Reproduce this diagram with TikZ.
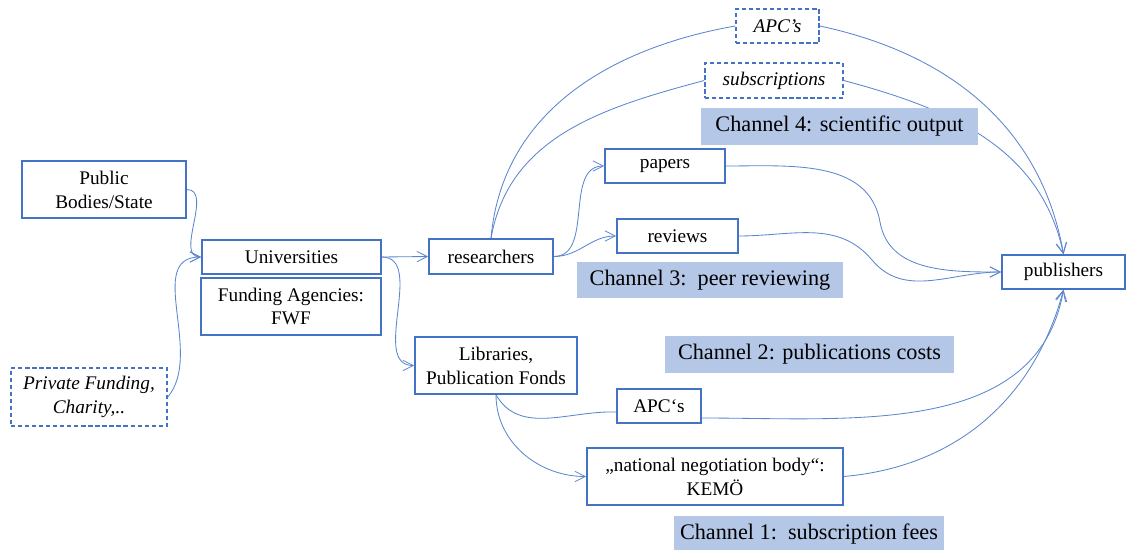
\documentclass[tikz,border=0pt]{standalone}
\usepackage{fontspec}
\setmainfont{Liberation Serif}
\usetikzlibrary{arrows.meta}
\definecolor{boxblue}{HTML}{4472C4}
\definecolor{lineblue}{HTML}{5B86CF}
\definecolor{chanblue}{HTML}{B4C7E7}

\begin{document}
\begin{tikzpicture}[x=0.025cm,y=-0.025cm,
  box/.style={draw=boxblue,line width=1.1pt,fill=white,inner sep=0pt,align=center,
    font=\fontsize{13.7}{17}\selectfont},
  dashbox/.style={box,dash pattern=on 3pt off 2pt,
    font=\fontsize{13.7}{17}\selectfont\itshape},
  channel/.style={fill=chanblue,inner sep=0pt,font=\fontsize{15.8}{18}\selectfont},
  flow/.style={draw=lineblue,line width=0.6pt},
  arr/.style={flow,-{Straight Barb[length=2.6mm,width=2.6mm]}}]
\useasboundingbox (0,0) rectangle (1129,550);

\node[box,minimum width=4.1cm,minimum height=1.425cm] (pub) at (104,189.5) {Public\\Bodies/State};
\node[box,minimum width=4.475cm,minimum height=0.85cm] (uni) at (291.5,257) {Universities};
\node[box,minimum width=4.5cm,minimum height=1.425cm] (fwf) at (291,306.5) {Funding Agencies:\\FWF};
\node[dashbox,minimum width=3.9cm,minimum height=1.45cm] (priv) at (89,397) {Private Funding,\\Charity,..};
\node[box,minimum width=3.1cm,minimum height=0.875cm] (res) at (491,256.5) {researchers};
\node[box,minimum width=3.0cm,minimum height=0.85cm] (pap) at (665,166) {papers};
\node[box,minimum width=3.025cm,minimum height=0.85cm] (rev) at (677.5,236) {reviews};
\node[dashbox,minimum width=2.075cm,minimum height=0.85cm] (apctop) at (777.5,26) {APC’s};
\node[dashbox,minimum width=3.45cm,minimum height=0.875cm] (subs) at (774,80.5) {subscriptions};
\node[box,minimum width=3.075cm,minimum height=0.85cm] (pubs) at (1063.5,272) {publishers};
\node[box,minimum width=4.05cm,minimum height=1.425cm] (lib) at (496,365.5) {Libraries,\\Publication Fonds};
\node[box,minimum width=2.1cm,minimum height=0.85cm] (apclow) at (659,406) {APC‘s};
\node[box,minimum width=6.4cm,minimum height=1.425cm] (kemo) at (715,476.5) {„national negotiation body“:\\KEMÖ};

\coordinate (bendA) at (880,222);
\coordinate (bendB) at (872,260);

\draw[arr] (pub.east) to[out=0,in=180] (uni.west);
\draw[arr] (priv.east) to[out=50,in=180] (uni.west);
\draw[arr] (uni.east) -- (res.west);
\draw[arr] (uni.east) to[out=0,in=180] (lib.west);
\draw[arr] (res.east) to[out=0,in=180] (pap.west);
\draw[arr] (res.east) to[out=0,in=180] (rev.west);
\draw[flow] (res.north) to[out=85,in=190] (apctop.west);
\draw[flow] (res.north) to[out=80,in=195] (subs.west);
\draw[arr] (apctop.east) to[out=-12,in=100] (pubs.north);
\draw[arr] (subs.east) to[out=-15,in=102] (pubs.north);
\draw[arr] (pap.east) to[out=0,in=100] (bendA) to[out=-80,in=180] (pubs.west);
\draw[arr] (rev.east) to[out=0,in=130] (bendB) to[out=-50,in=180] (pubs.west);
\draw[flow] (lib.south) to[out=-60,in=178] ([yshift=-0.15cm]apclow.west);
\draw[arr] ([yshift=-0.3cm]apclow.east) to[out=0,in=-100] (pubs.south);
\draw[arr] (lib.south) to[out=-90,in=180] (kemo.west);
\draw[arr] (kemo.east) to[out=5,in=-105] (pubs.south);

\node[channel,minimum width=6.925cm,minimum height=0.925cm] (ch4) at (839.5,126.5) {Channel 4: scientific output};
\node[channel,minimum width=6.65cm,minimum height=0.9cm] (ch3) at (710,280) {Channel 3:\ \ peer reviewing};
\node[channel,minimum width=7.225cm,minimum height=0.925cm] (ch2) at (809.5,354.5) {Channel 2: publications costs};
\node[channel,minimum width=6.75cm,minimum height=0.9cm] (ch1) at (809,534) {Channel 1:\ \ subscription fees};
\end{tikzpicture}
\end{document}
